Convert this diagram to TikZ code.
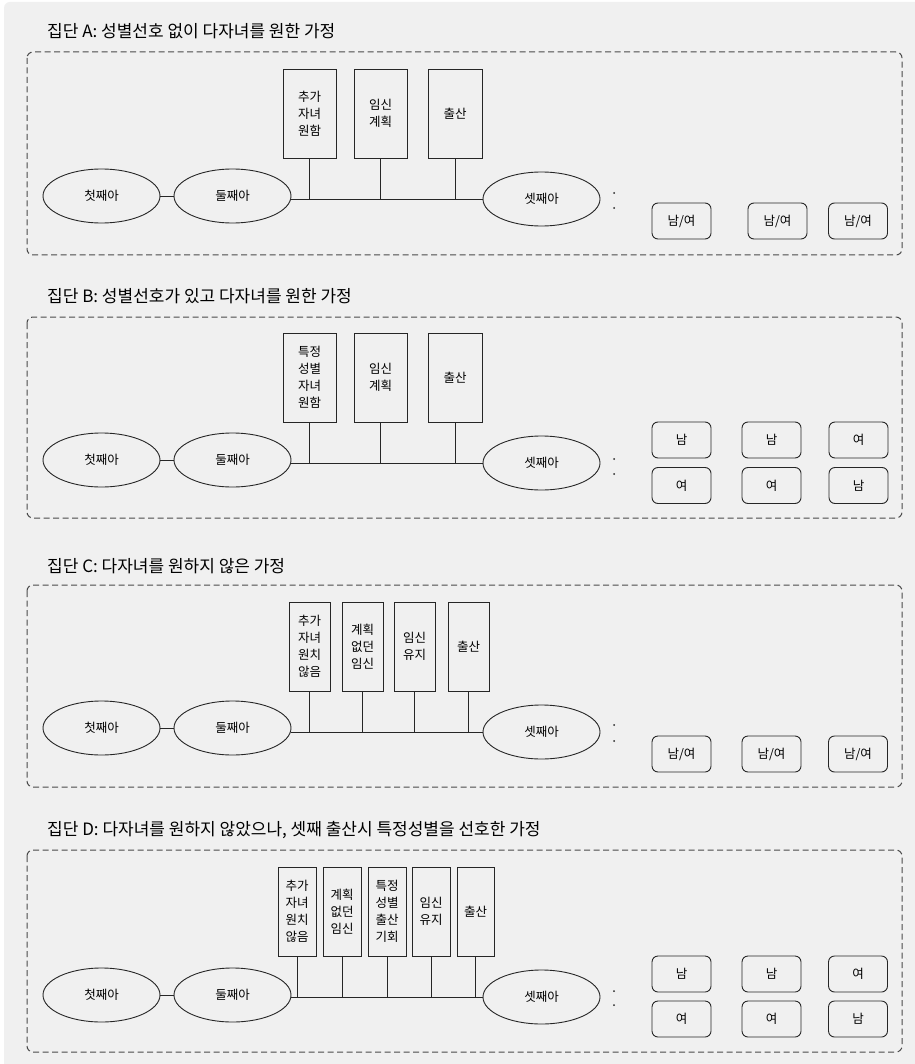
\documentclass[tikz,border=0pt]{standalone}
\usepackage{fontspec}
\setmainfont{Noto Sans CJK KR}
\usetikzlibrary{shapes.geometric,positioning}
\definecolor{paper}{HTML}{F0F0F0}
\definecolor{ink}{HTML}{262626}
\definecolor{rim}{HTML}{4A4A4A}
\tikzset{panel/.style={draw=rim,dash pattern=on 6pt off 3.5pt,line width=1pt,rounded corners=6pt}, grouptitle/.style={anchor=west,inner sep=0pt,font=\fontsize{17}{20}\selectfont}, kid/.style={ellipse,draw=ink,line width=.9pt,minimum width=117pt,minimum height=54pt,inner sep=0pt,font=\fontsize{12.5}{15}\selectfont}, stagebox/.style={draw=ink,line width=.9pt,minimum height=89pt,inner sep=0pt,align=center,font=\fontsize{12.5}{17}\selectfont}, sexbox/.style={draw=ink,line width=.9pt,rounded corners=6pt,minimum width=59pt,minimum height=36pt,inner sep=0pt,font=\fontsize{12.5}{15}\selectfont}, wire/.style={draw=ink,line width=.9pt}}

\begin{document}
\begin{tikzpicture}[x=1pt,y=-1pt]
\useasboundingbox (0,0) rectangle (914,1064);
\fill[white] (0,0) rectangle (914,1064);
\fill[paper,rounded corners=6pt] (4,2) rectangle (930,1080);

\node[grouptitle] (tA) at (47,31) {집단 A: 성별선호 없이 다자녀를 원한 가정};
\draw[panel] (27,52) rectangle (902,255);
\node[kid] (a1) at (101.5,196) {첫째아};
\node[kid] (a2) at (232.5,196) {둘째아};
\node[kid] (a3) at (541.5,199) {셋째아};
\node[stagebox,minimum width=53pt] (aw) at (309.5,113.5) {추가\\자녀\\원함};
\node[stagebox,minimum width=53pt] (ap) at (380.5,113.5) {임신\\계획};
\node[stagebox,minimum width=54pt] (ab) at (455,113.5) {출산};
\draw[wire] (a1) -- (a2);
\draw[wire] (a2.east |- a3.west) -- (a3.west);
\foreach \s in {aw,ap,ab} \draw[wire] (\s.south) -- (\s.south |- a3.west);
\fill[ink] (614,193) circle (1pt) (614,208) circle (1pt);
\node[sexbox] (ax1) at (681.5,221) {남/여};
\node[sexbox] (ax2) at (777.5,221) {남/여};
\node[sexbox] (ax3) at (858,221) {남/여};

\node[grouptitle] (tB) at (47,296) {집단 B: 성별선호가 있고 다자녀를 원한 가정};
\draw[panel] (27,317) rectangle (902,518);
\node[kid] (b1) at (101.5,460) {첫째아};
\node[kid] (b2) at (232.5,460) {둘째아};
\node[kid] (b3) at (541.5,463) {셋째아};
\node[stagebox,minimum width=53pt] (bw) at (309.5,377.5) {특정\\성별\\자녀\\원함};
\node[stagebox,minimum width=53pt] (bp) at (380.5,377.5) {임신\\계획};
\node[stagebox,minimum width=54pt] (bb) at (455,377.5) {출산};
\draw[wire] (b1) -- (b2);
\draw[wire] (b2.east |- b3.west) -- (b3.west);
\foreach \s in {bw,bp,bb} \draw[wire] (\s.south) -- (\s.south |- b3.west);
\fill[ink] (614,459) circle (1pt) (614,474) circle (1pt);
\node[sexbox] (bx1) at (681.5,440) {남};
\node[sexbox] (bx2) at (771.5,440) {남};
\node[sexbox] (bx3) at (858.5,440) {여};
\node[sexbox] (by1) at (681.5,485.5) {여};
\node[sexbox] (by2) at (771.5,485.5) {여};
\node[sexbox] (by3) at (858.5,485.5) {남};

\node[grouptitle] (tC) at (47,566) {집단 C: 다자녀를 원하지 않은 가정};
\draw[panel] (27,585) rectangle (902,787);
\node[kid] (c1) at (101.5,728) {첫째아};
\node[kid] (c2) at (232.5,728) {둘째아};
\node[kid] (c3) at (541.5,732) {셋째아};
\node[stagebox,minimum width=41pt] (cn) at (309.5,646.5) {추가\\자녀\\원치\\않음};
\node[stagebox,minimum width=41pt] (cu) at (362.5,646.5) {계획\\없던\\임신};
\node[stagebox,minimum width=41pt] (ck) at (414.5,646.5) {임신\\유지};
\node[stagebox,minimum width=41pt] (cb) at (468.5,646.5) {출산};
\draw[wire] (c1) -- (c2);
\draw[wire] (c2.east |- c3.west) -- (c3.west);
\foreach \s in {cn,cu,ck,cb} \draw[wire] (\s.south) -- (\s.south |- c3.west);
\fill[ink] (614,725) circle (1pt) (614,741) circle (1pt);
\node[sexbox] (cx1) at (681.5,754) {남/여};
\node[sexbox] (cx2) at (771.5,754) {남/여};
\node[sexbox] (cx3) at (858,754) {남/여};

\node[grouptitle] (tD) at (47,830) {집단 D: 다자녀를 원하지 않았으나, 셋째 출산시 특정성별을 선호한 가정};
\draw[panel] (27,850) rectangle (902,1052);
\node[kid] (d1) at (101.5,995) {첫째아};
\node[kid] (d2) at (232.5,995) {둘째아};
\node[kid] (d3) at (541.5,997) {셋째아};
\node[stagebox,minimum width=38pt] (dn) at (297,911.5) {추가\\자녀\\원치\\않음};
\node[stagebox,minimum width=38pt] (du) at (342,911.5) {계획\\없던\\임신};
\node[stagebox,minimum width=38pt] (ds) at (387,911.5) {특정\\성별\\출산\\기회};
\node[stagebox,minimum width=38pt] (dk) at (431,911.5) {임신\\유지};
\node[stagebox,minimum width=37pt] (db) at (475.5,911.5) {출산};
\draw[wire] (d1) -- (d2);
\draw[wire] (d2.east |- d3.west) -- (d3.west);
\foreach \s in {dn,du,ds,dk,db} \draw[wire] (\s.south) -- (\s.south |- d3.west);
\fill[ink] (614,991) circle (1pt) (614,1005) circle (1pt);
\node[sexbox] (dx1) at (681.5,974) {남};
\node[sexbox] (dx2) at (771.5,974) {남};
\node[sexbox] (dx3) at (858,974) {여};
\node[sexbox] (dy1) at (681.5,1019) {여};
\node[sexbox] (dy2) at (771.5,1019) {여};
\node[sexbox] (dy3) at (858,1019) {남};
\end{tikzpicture}
\end{document}
